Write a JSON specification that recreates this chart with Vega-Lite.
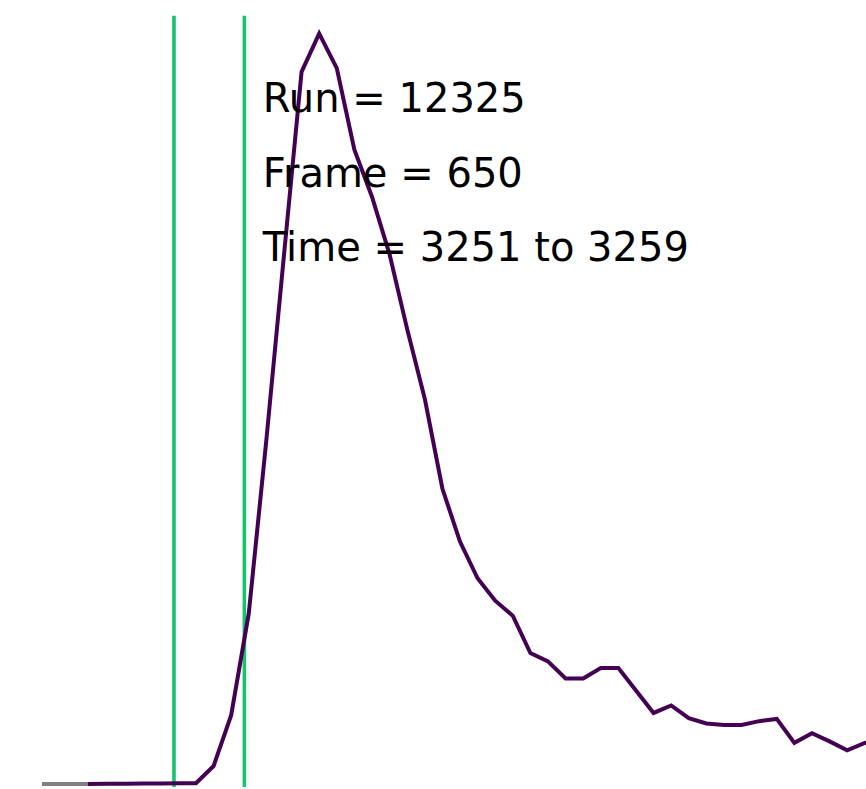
{
  "$schema": "https://vega.github.io/schema/vega-lite/v6.json",
  "width": 866,
  "height": 789,
  "autosize": {"type": "fit", "contains": "padding"},
  "padding": 0,
  "config": {"view": {"stroke": null}, "font": "DejaVu Sans"},
  "datasets": {
    "pre": [
      {"t": 3236.0, "v": 0.0},
      {"t": 3241.2, "v": 0.0}
    ],
    "signal": [
      {"t": 3241.2, "v": 0.0},
      {"t": 3243.5, "v": 0.02},
      {"t": 3245.5, "v": 0.04},
      {"t": 3247.5, "v": 0.06},
      {"t": 3249.5, "v": 0.08},
      {"t": 3251.5, "v": 0.1},
      {"t": 3253.5, "v": 0.1},
      {"t": 3255.5, "v": 2.4},
      {"t": 3257.5, "v": 9.2},
      {"t": 3259.5, "v": 22.8},
      {"t": 3261.5, "v": 46.0},
      {"t": 3263.5, "v": 70.7},
      {"t": 3265.5, "v": 95.2},
      {"t": 3267.5, "v": 100.3},
      {"t": 3269.5, "v": 95.7},
      {"t": 3271.5, "v": 84.8},
      {"t": 3273.5, "v": 78.5},
      {"t": 3275.5, "v": 70.8},
      {"t": 3277.5, "v": 60.8},
      {"t": 3279.5, "v": 51.5},
      {"t": 3281.5, "v": 39.5},
      {"t": 3283.5, "v": 32.4},
      {"t": 3285.5, "v": 27.5},
      {"t": 3287.5, "v": 24.5},
      {"t": 3289.5, "v": 22.5},
      {"t": 3291.5, "v": 17.5},
      {"t": 3293.5, "v": 16.4},
      {"t": 3295.5, "v": 14.1},
      {"t": 3297.5, "v": 14.1},
      {"t": 3299.5, "v": 15.5},
      {"t": 3301.5, "v": 15.5},
      {"t": 3303.5, "v": 12.5},
      {"t": 3305.5, "v": 9.5},
      {"t": 3307.5, "v": 10.5},
      {"t": 3309.5, "v": 8.8},
      {"t": 3311.5, "v": 8.1},
      {"t": 3313.5, "v": 7.9},
      {"t": 3315.5, "v": 7.9},
      {"t": 3317.5, "v": 8.4},
      {"t": 3319.5, "v": 8.7},
      {"t": 3321.5, "v": 5.5},
      {"t": 3323.5, "v": 6.8},
      {"t": 3325.5, "v": 5.7},
      {"t": 3327.5, "v": 4.5},
      {"t": 3329.5, "v": 5.5},
      {"t": 3331.5, "v": 5.6}
    ],
    "window": [
      {"t": 3251, "top": 102.7, "bottom": -0.4},
      {"t": 3259, "top": 102.7, "bottom": -0.4}
    ],
    "labels": [
      {"t": 3261.1, "v": 89.87, "label": "Run = 12325"},
      {"t": 3261.1, "v": 79.87, "label": "Frame = 650"},
      {"t": 3261.1, "v": 69.87, "label": "Time = 3251 to 3259"}
    ]
  },
  "layer": [
    {
      "data": {"name": "window"},
      "mark": {"type": "rule", "color": "#16c46c", "strokeWidth": 3.6},
      "encoding": {
        "x": {"field": "t", "type": "quantitative", "scale": {"domain": [3231.23, 3329.64], "nice": false, "zero": false}, "axis": null},
        "y": {"field": "top", "type": "quantitative", "scale": {"domain": [-0.4, 104.8], "nice": false, "zero": false}, "axis": null},
        "y2": {"field": "bottom"}
      }
    },
    {
      "data": {"name": "pre"},
      "mark": {"type": "line", "color": "#808080", "strokeWidth": 3.8, "clip": true},
      "encoding": {
        "x": {"field": "t", "type": "quantitative"},
        "y": {"field": "v", "type": "quantitative"}
      }
    },
    {
      "data": {"name": "signal"},
      "mark": {"type": "line", "color": "#440154", "strokeWidth": 4, "clip": true},
      "encoding": {
        "x": {"field": "t", "type": "quantitative"},
        "y": {"field": "v", "type": "quantitative"}
      }
    },
    {
      "data": {"name": "labels"},
      "mark": {"type": "text", "align": "left", "baseline": "alphabetic", "fontSize": 40, "font": "DejaVu Sans", "color": "#000000"},
      "encoding": {
        "x": {"field": "t", "type": "quantitative"},
        "y": {"field": "v", "type": "quantitative"},
        "text": {"field": "label"}
      }
    }
  ],
  "resolve": {"scale": {"x": "shared", "y": "shared"}}
}
